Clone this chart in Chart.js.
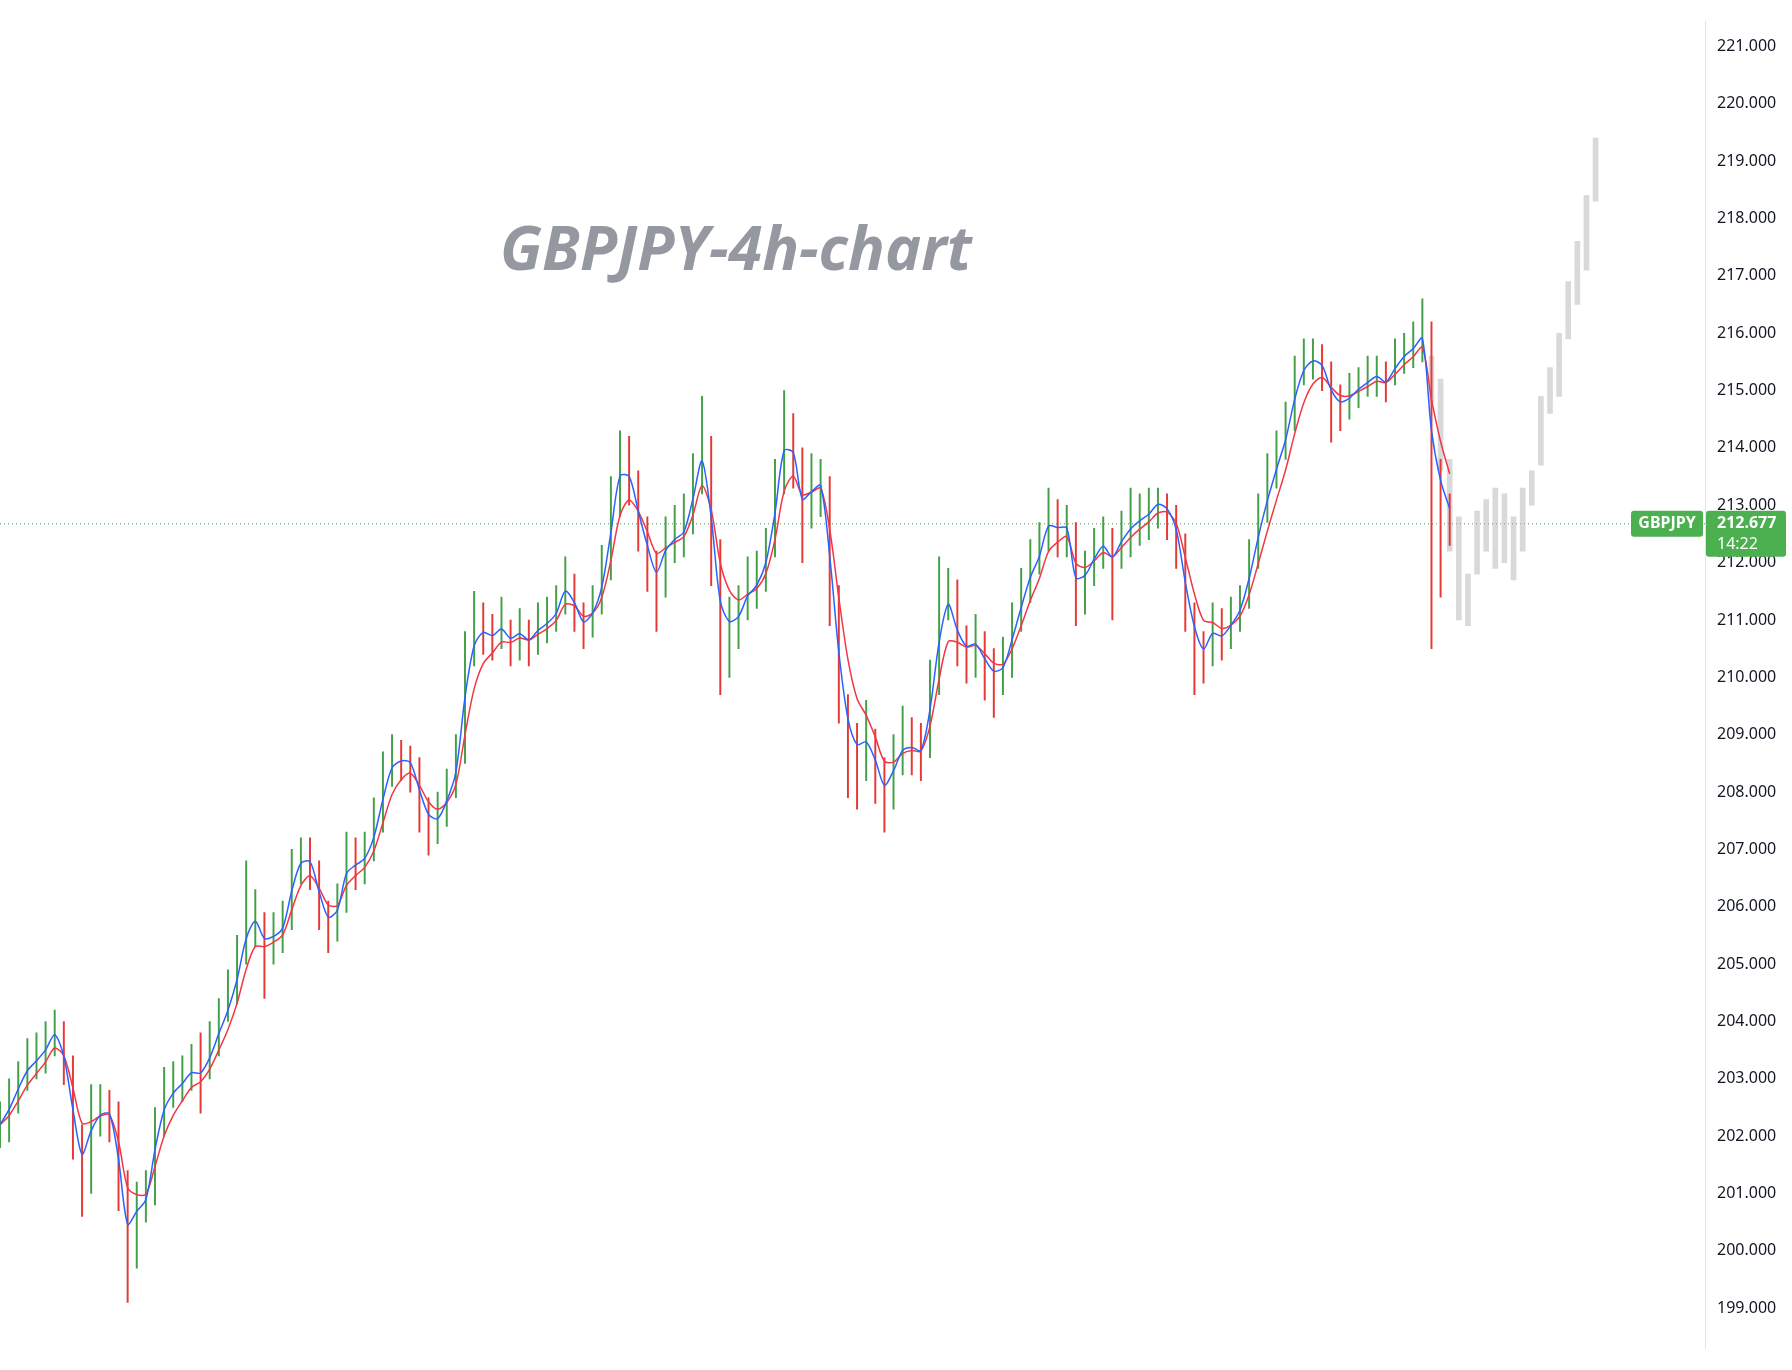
<!DOCTYPE html>
<html><head><meta charset="utf-8">
<script src="https://cdn.jsdelivr.net/npm/chart.js@4"></script>
<style>html,body{margin:0;padding:0;background:#fff}#w{width:1792px;height:1370px}</style>
</head><body><div id="w"><canvas id="c"></canvas></div>
<script>
const closes=[202.2,202.6,203.0,203.3,203.4,203.6,203.9,203.2,202.0,201.3,202.3,202.5,202.4,201.2,199.9,200.8,201.0,202.2,202.8,202.9,203.0,203.2,203.1,203.5,204.0,204.4,205.0,205.8,205.9,205.3,205.5,205.7,206.6,207.0,206.8,206.0,205.6,206.0,206.9,206.8,206.9,207.4,208.2,208.7,208.6,208.5,207.8,207.4,207.5,208.0,208.6,210.3,211.0,210.9,210.7,210.9,210.6,210.8,210.6,210.9,211.0,211.2,211.7,211.2,210.8,211.2,211.8,213.0,214.0,213.5,212.6,212.0,211.6,212.4,212.5,212.6,213.4,214.1,212.3,210.6,210.8,211.1,211.6,211.7,212.2,213.3,214.5,213.9,212.7,213.3,213.4,211.5,209.6,208.7,208.6,208.9,208.4,207.9,208.5,208.9,208.8,208.7,209.8,211.2,211.6,210.6,210.4,210.6,210.2,210.0,210.2,210.9,211.5,212.0,212.3,212.9,212.6,212.6,211.3,211.8,212.2,212.4,212.0,212.5,212.7,212.8,212.9,213.1,212.9,212.4,211.2,210.5,210.3,210.9,210.7,211.0,211.3,212.0,212.8,213.4,213.9,214.4,215.2,215.6,215.6,215.4,214.8,214.7,214.9,215.1,215.2,215.3,215.1,215.5,215.7,215.8,216.0,213.5,213.0,212.7];
const highs=[202.6,203.0,203.3,203.7,203.8,204.0,204.2,204.0,203.4,202.2,202.9,202.9,202.8,202.6,201.4,201.2,201.4,202.5,203.2,203.3,203.4,203.6,203.8,204.0,204.4,204.9,205.5,206.8,206.3,205.9,205.9,206.1,207.0,207.2,207.2,206.8,206.1,206.4,207.3,207.2,207.3,207.9,208.7,209.0,208.9,208.8,208.6,207.9,208.0,208.4,209.0,210.8,211.5,211.3,211.1,211.4,211.0,211.2,211.0,211.3,211.4,211.6,212.1,211.8,211.3,211.6,212.3,213.5,214.3,214.2,213.6,212.8,212.2,212.8,213.0,213.2,213.9,214.9,214.2,212.4,211.4,211.6,212.1,212.2,212.6,213.8,215.0,214.6,214.0,213.9,213.8,213.5,211.6,209.7,209.2,209.6,209.1,208.6,209.0,209.5,209.3,209.2,210.3,212.1,211.9,211.7,210.9,211.1,210.8,210.5,210.7,211.3,211.9,212.4,212.7,213.3,213.1,213.0,212.7,212.2,212.6,212.8,212.6,212.9,213.3,213.2,213.3,213.3,213.2,213.0,212.5,211.3,210.8,211.3,211.2,211.4,211.6,212.4,213.2,213.9,214.3,214.8,215.6,215.9,215.9,215.8,215.5,215.1,215.3,215.4,215.6,215.6,215.5,215.9,216.0,216.2,216.6,216.2,213.8,213.2];
const lows=[201.8,201.9,202.4,202.8,203.0,203.1,203.4,202.9,201.6,200.6,201.0,202.0,201.9,200.7,199.1,199.7,200.5,200.8,202.0,202.5,202.6,202.8,202.4,203.0,203.4,204.0,204.3,205.0,205.3,204.4,205.0,205.2,205.6,206.4,206.3,205.6,205.2,205.4,205.9,206.3,206.4,206.8,207.3,208.1,208.2,208.0,207.3,206.9,207.1,207.4,207.9,208.5,210.2,210.4,210.3,210.5,210.2,210.3,210.2,210.4,210.6,210.8,211.1,210.8,210.5,210.7,211.1,211.7,212.8,213.0,212.2,211.5,210.8,211.4,212.0,212.1,212.5,213.2,211.6,209.7,210.0,210.5,211.0,211.2,211.5,212.1,213.2,213.3,212.0,212.6,212.8,210.9,209.2,207.9,207.7,208.2,207.8,207.3,207.7,208.3,208.3,208.2,208.6,209.7,211.0,210.2,209.9,210.0,209.6,209.3,209.7,210.0,210.8,211.3,211.8,212.2,212.1,212.1,210.9,211.1,211.6,211.9,211.0,211.9,212.1,212.3,212.4,212.6,212.4,211.9,210.8,209.7,209.9,210.2,210.3,210.5,210.8,211.2,211.9,212.7,213.3,213.8,214.3,215.1,215.2,215.0,214.1,214.3,214.5,214.7,214.9,214.9,214.8,215.1,215.3,215.4,215.5,210.5,211.4,212.3];
const ghostStart=157;
const ghostLows=[214.8,213.6,212.2,211.0,210.9,211.8,212.2,211.9,212.0,211.7,212.2,213.0,213.7,214.6,214.9,215.9,216.5,217.1,218.3];
const ghostHighs=[215.6,215.2,213.8,212.8,211.8,212.9,213.1,213.3,213.2,212.8,213.3,213.6,214.9,215.4,216.0,216.9,217.6,218.4,219.4];
const lastPrice=212.677, symbol='GBPJPY', countdown='14:22', title='GBPJPY-4h-chart';
const slots=188;

const labels=[...Array(slots).keys()];
const realBars=labels.map(i=>i<closes.length?[lows[i],highs[i]]:null);
const barColors=labels.map(i=>{if(i>=closes.length)return'#43a047';const o=i?closes[i-1]:closes[0];return closes[i]>=o?'#43a047':'#e53935';});
const ghostBars=labels.map(i=>{const k=i-ghostStart;return k>=0&&k<ghostLows.length?[ghostLows[k],ghostHighs[k]]:null;});
function ema(n){const a=2/(n+1);let e=closes[0];return labels.map(i=>{if(i>=closes.length)return null;e=i?a*closes[i]+(1-a)*e:e;return e;});}

const overlay={id:'overlay',
 beforeDatasetsDraw(ch){const c=ch.ctx,y=ch.scales.y.getPixelForValue(lastPrice),a=ch.chartArea;
  c.save();c.strokeStyle='#43a047';c.lineWidth=1;c.setLineDash([1,3]);c.beginPath();c.moveTo(a.left,y);c.lineTo(a.right,y);c.stroke();c.restore();
  c.save();c.font='italic bold 61px "Open Sans"';c.fillStyle='#9598a1';c.textBaseline='alphabetic';c.fillText(title,500,270);c.restore();},
 afterDraw(ch){const c=ch.ctx,y=ch.scales.y.getPixelForValue(lastPrice),a=ch.chartArea;
  c.save();c.fillStyle='#4caf50';
  c.beginPath();c.roundRect(1631,y-13,72,26,3);c.fill();
  c.beginPath();c.roundRect(a.right+1,y-13,80,46,3);c.fill();
  c.fillStyle='#fff';c.font='bold 16px "Noto Sans"';c.textBaseline='middle';c.textAlign='center';c.fillText(symbol,1667,y);
  c.textAlign='left';c.fillText(lastPrice.toFixed(3),a.right+12,y);c.font='16px "Noto Sans"';c.fillText(countdown,a.right+12,y+21);c.restore();}};

new Chart(document.getElementById('c'),{type:'bar',
 data:{labels,datasets:[
  {type:'line',data:ema(2),borderColor:'#2962ff',borderWidth:1.5,pointRadius:0,tension:0.3,order:0},
  {type:'line',data:ema(4),borderColor:'#f23645',borderWidth:1.5,pointRadius:0,tension:0.3,order:1},
  {data:realBars,backgroundColor:barColors,barThickness:1.3,order:2},
  {data:ghostBars,backgroundColor:'rgba(170,170,170,0.45)',barThickness:5,order:3}]},
 options:{responsive:true,maintainAspectRatio:false,animation:false,
  layout:{padding:0},
  plugins:{legend:{display:false},tooltip:{enabled:false}},
  scales:{x:{display:false,stacked:true,offset:false,grid:{display:false}},
   y:{position:'right',min:198.30,max:221.433,grid:{display:false,drawTicks:false},
    border:{display:true,color:'#e0e3eb'},
    afterBuildTicks(s){s.ticks=s.ticks.filter(t=>Math.abs(t.value-Math.round(t.value))<1e-6);},
    afterFit(s){s.width=87;},
    ticks:{stepSize:1,padding:12,color:'#131722',font:{family:'Noto Sans',size:16},callback:v=>Number(v).toFixed(3)}}}},
 plugins:[overlay]});
</script></body></html>
